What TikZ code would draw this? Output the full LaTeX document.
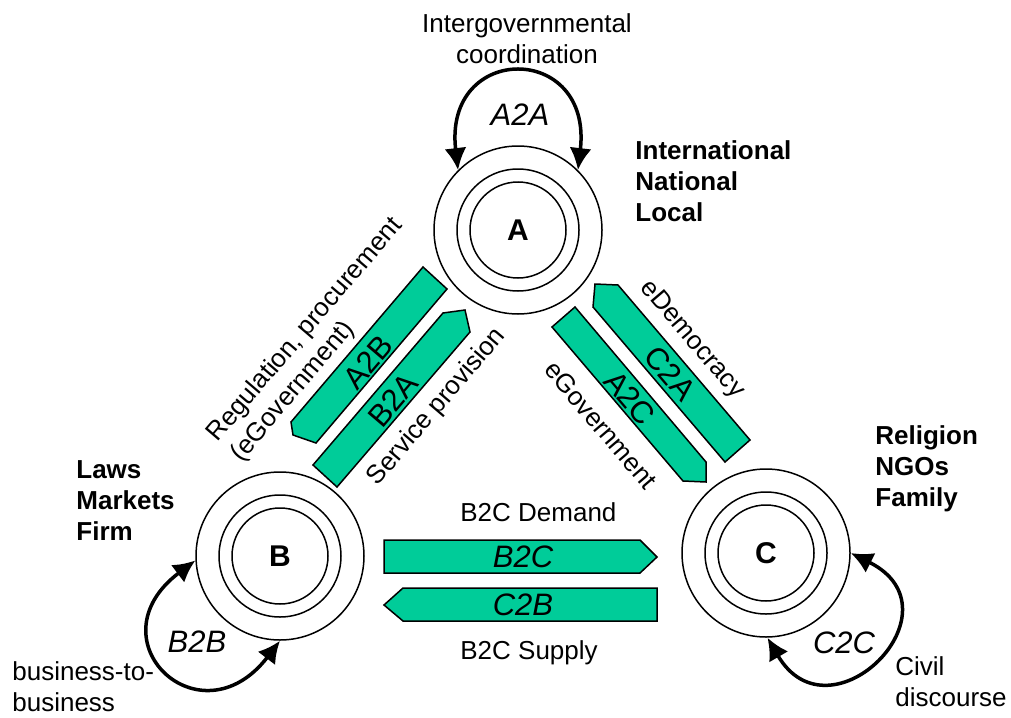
\documentclass[tikz,border=0pt]{standalone}
\usepackage{fontspec}
\setmainfont{Liberation Sans}
\usepackage{tikz}
\usetikzlibrary{arrows.meta}
\definecolor{flowGreen}{RGB}{0,204,153}

\begin{document}
\begin{tikzpicture}[x=0.5pt,y=-0.5pt]
% define the looks
\tikzset{
    ring/.style={circle,draw,line width=0.75pt,inner sep=0pt},
    actor/.style={ring,minimum size=84pt,font=\fontsize{15}{18}\selectfont\bfseries},
    flow/.style={fill=flowGreen,draw=black,line width=0.75pt,line join=miter},
    loopArrow/.style={line width=1.75pt,<->,>={Latex[length=11pt,width=11pt]}},
    lbl/.style={font=\fontsize{13}{15.5}\selectfont,align=left,inner sep=0pt},
    blbl/.style={lbl,font=\fontsize{13}{15.5}\selectfont\bfseries},
    fLbl/.style={font=\fontsize{15.5}{18}\selectfont,inner sep=0pt},
    iLbl/.style={fLbl,font=\fontsize{15.5}{18}\selectfont\itshape}
}

%% CONFIG
\def\rotB{49.5}

\useasboundingbox (0,0) rectangle (1011,717);

% Draw the three actors
\foreach \n/\x/\y in {A/518/230, B/280/556, C/766/553}{
    \node[actor] (\n) at (\x,\y) {\n};
    \node[ring,minimum size=61pt] (\n/mid) at (\x,\y) {};
    \node[ring,minimum size=48pt] (\n/in) at (\x,\y) {};
}

% Draw the self loops
\draw[loopArrow] (A.135) .. controls (443,42) and (593,42) .. (A.45);
\draw[loopArrow] (B.183) .. controls (90,640) and (200,745) .. (B.270);
\draw[loopArrow] (C.0) .. controls (965,610) and (830,745) .. (C.271);
\node[iLbl] (a2a) at (520,115) {A2A};
\node[iLbl] (b2b) at (197,642) {B2B};
\node[iLbl] (c2c) at (844,643) {C2C};

% Draw the flows between A and B
\draw[flow] (423,267) -- (447,289) -- (316,443) -- (293,435) -- (291,422) -- cycle;
\node[fLbl,rotate=\rotB] (a2b) at (368,362) {A2B};
\draw[flow] (313,465) -- (443,313) -- (465,310) -- (470,332) -- (337,487) -- cycle;
\node[fLbl,rotate=\rotB] (b2a) at (393,400) {B2A};

% Draw the flows between A and C
\draw[flow] (552,327) -- (575,307) -- (706,462) -- (706,482) -- (683,481) -- cycle;
\node[fLbl,rotate=-\rotB] (a2c) at (630,398) {A2C};
\draw[flow] (595,284) -- (618,285) -- (750,440) -- (725,462) -- (593,307) -- cycle;
\node[fLbl,rotate=-\rotB] (c2a) at (670,373) {C2A};

% Draw the flows between B and C
\draw[flow] (384,540) -- (640,540) -- (657,557) -- (640,573) -- (384,573) -- cycle;
\node[iLbl] (b2c) at (523,557) {B2C};
\draw[flow] (384,605) -- (403,588) -- (657,588) -- (657,621) -- (403,621) -- cycle;
\node[iLbl] (c2b) at (523,605) {C2B};

% Draw the levels of each actor
\node[blbl,anchor=west] (levelA) at (635,181) {International\\National\\Local};
\node[blbl,anchor=west] (levelB) at (76,501) {Laws\\Markets\\Firm};
\node[blbl,anchor=west] (levelC) at (875,469) {Religion\\NGOs\\Family};

% Draw the descriptions
\node[lbl,align=center] (intergov) at (527,39) {Intergovernmental\\coordination};
\node[lbl,anchor=west] (b2bText) at (12,687) {business-to-\\business};
\node[lbl,anchor=west] (c2cText) at (895,682) {Civil\\discourse};
\node[lbl,anchor=west] (demand) at (460,512) {B2C Demand};
\node[lbl,anchor=west] (supply) at (460,653) {B2C Supply};
\node[lbl,rotate=\rotB] (regul) at (317,340) {Regulation, procurement\\(eGovernment)};
\node[lbl,rotate=\rotB] (service) at (437,407) {Service provision};
\node[lbl,rotate=-\rotB] (edemo) at (692,340) {eDemocracy};
\node[lbl,rotate=-\rotB] (egov) at (601,425) {eGovernment};

\end{tikzpicture}
\end{document}
